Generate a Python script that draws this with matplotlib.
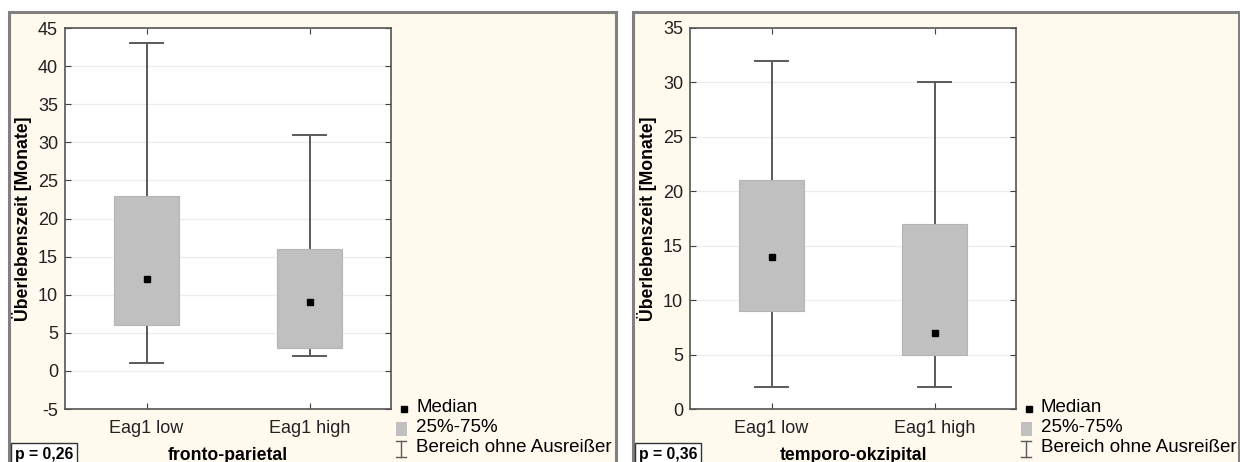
import numpy as np
import matplotlib.pyplot as plt
from matplotlib.patches import Rectangle

plt.rcParams['font.family'] = ['Liberation Sans', 'DejaVu Sans']
plt.rcParams['axes.unicode_minus'] = False

# Daten
gruppen = ['Eag1 low', 'Eag1 high']

fp_min = [1, 2]
fp_q1 = [6, 3]
fp_med = [12, 9]
fp_q3 = [23, 16]
fp_max = [43, 31]

to_min = [2, 2]
to_q1 = [9, 5]
to_med = [14, 7]
to_q3 = [21, 17]
to_max = [32, 30]

titel = ['fronto-parietal', 'temporo-okzipital']
p_werte = ['p = 0,26', 'p = 0,36']

W, H = 1240, 462
fig = plt.figure(figsize=(W / 100, H / 100), dpi=100)
fig.patch.set_facecolor('white')

bg = '#fff9ee'
box_col = '#c0c0c0'
line_col = '#5a5a5a'
fs = 13


def panel(fx0, fx1, ax_x0, ax_x1, mins, q1, med, q3, maxs, ylim, yticks, name, p):
    # Hintergrundrahmen
    fig.patches.append(Rectangle((fx0 / W, -0.01), (fx1 - fx0) / W, 1 - 12 / H + 0.01,
                                 transform=fig.transFigure, facecolor=bg,
                                 edgecolor='#808080', linewidth=2.2, zorder=-5))
    ax = fig.add_axes([ax_x0 / W, 1 - 409 / H, (ax_x1 - ax_x0) / W, (409 - 28) / H])
    ax.set_facecolor('white')
    pos = np.arange(1, len(gruppen) + 1)
    for i, x in enumerate(pos):
        ax.plot([x, x], [mins[i], q1[i]], color=line_col, lw=1.4, zorder=2)
        ax.plot([x, x], [q3[i], maxs[i]], color=line_col, lw=1.4, zorder=2)
        ax.plot([x - 0.1, x + 0.1], [mins[i], mins[i]], color=line_col, lw=1.4, zorder=2)
        ax.plot([x - 0.1, x + 0.1], [maxs[i], maxs[i]], color=line_col, lw=1.4, zorder=2)
    ax.bar(pos, np.array(q3) - np.array(q1), bottom=q1, width=0.4, color=box_col,
           edgecolor='#b4b4b4', linewidth=0.8, zorder=3)
    ax.plot(pos, med, 's', color='black', markersize=4.8, zorder=4)
    ax.set_xlim(0.5, 2.5)
    ax.set_ylim(*ylim)
    ax.set_yticks(yticks)
    ax.set_xticks(pos)
    ax.set_xticklabels(gruppen, fontsize=fs)
    ax.tick_params(axis='y', labelsize=fs, direction='in', length=4, right=True,
                   color='#404040', labelcolor='#222222', pad=5)
    ax.tick_params(axis='x', direction='in', length=4, top=True, color='#404040',
                   labelcolor='#222222', pad=8)
    ax.grid(axis='y', color='#ececec', lw=0.9, zorder=0)
    ax.set_axisbelow(True)
    for s in ax.spines.values():
        s.set_color('#555555')
        s.set_linewidth(1.2)
    ax.set_ylabel('Überlebenszeit [Monate]', fontsize=fs - 0.3, fontweight='bold', labelpad=4)
    # Titel unten
    fig.text((ax_x0 + ax_x1) / 2 / W, 1 - 455 / H, name, ha='center', va='center',
             fontsize=fs - 0.3, fontweight='bold')
    # p-Wert-Kasten
    fig.text((fx0 + 6) / W, 1 - 454 / H, p, ha='left', va='center', fontsize=11.3,
             fontweight='bold',
             bbox=dict(boxstyle='square,pad=0.25', facecolor='white', edgecolor='#333333', lw=1))
    # Legende
    lx = ax_x1 + 9
    lfs = 13.5
    fig.lines.append(plt.Line2D([(lx + 4) / W], [1 - 409 / H], marker='s', color='black',
                                markersize=4, transform=fig.transFigure))
    fig.text((lx + 16) / W, 1 - 408 / H, 'Median', va='center', fontsize=lfs)
    fig.patches.append(Rectangle(((lx - 4) / W, 1 - 436 / H), 11 / W, 14 / H,
                                 transform=fig.transFigure, facecolor=box_col,
                                 edgecolor='none'))
    fig.text((lx + 16) / W, 1 - 428 / H, '25%-75%', va='center', fontsize=lfs)
    wx = lx + 1
    fig.lines.append(plt.Line2D([wx / W, wx / W], [1 - 441 / H, 1 - 457 / H],
                                color=line_col, lw=1, transform=fig.transFigure))
    fig.lines.append(plt.Line2D([(wx - 5) / W, (wx + 5) / W], [1 - 441 / H, 1 - 441 / H],
                                color=line_col, lw=1, transform=fig.transFigure))
    fig.lines.append(plt.Line2D([(wx - 5) / W, (wx + 5) / W], [1 - 457 / H, 1 - 457 / H],
                                color=line_col, lw=1, transform=fig.transFigure))
    fig.text((lx + 16) / W, 1 - 448 / H, 'Bereich ohne Ausreißer', va='center', fontsize=lfs)
    return ax


panel(9, 616, 65, 391, fp_min, fp_q1, fp_med, fp_q3, fp_max, (-5, 45),
      np.arange(-5, 46, 5), titel[0], p_werte[0])
panel(633, 1239, 690, 1016, to_min, to_q1, to_med, to_q3, to_max, (0, 35),
      np.arange(0, 36, 5), titel[1], p_werte[1])

fig.savefig('out.png', dpi=100, facecolor='white')
